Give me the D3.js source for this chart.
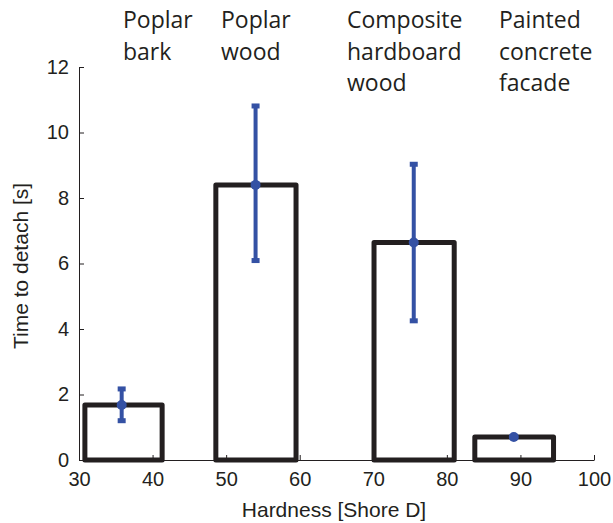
<!DOCTYPE html>
<html><head><meta charset="utf-8">
<script src="https://cdn.jsdelivr.net/npm/d3@7"></script>
<style>body{margin:0;background:#fff}</style>
</head><body>
<svg id="chart" width="613" height="523"></svg>
<script>
const categories = [["Poplar","bark"],["Poplar","wood"],["Composite","hardboard","wood"],["Painted","concrete","facade"]];
const hardnessLow = [30.8, 48.6, 70.1, 83.8];
const hardnessHigh = [41.3, 59.5, 81.0, 94.5];
const hardnessMean = [35.8, 54.0, 75.5, 89.1];
const timeMean = [1.68, 8.4, 6.64, 0.7];
const timeLow = [1.2, 6.09, 4.25, 0.7];
const timeHigh = [2.17, 10.81, 9.03, 0.7];
const xTicks = [30,40,50,60,70,80,90,100];
const yTicks = [0,2,4,6,8,10,12];
const labelX = [123, 221, 347, 499];

const svg = d3.select("#chart");
const x = d3.scaleLinear().domain([30,100]).range([79,594]);
const y = d3.scaleLinear().domain([0,12]).range([460,67]);
const axisCol = "#231f20";
const tickFont = "Liberation Sans, Arial, sans-serif";

// axes
const xAxis = svg.append("g").attr("transform","translate(0,460)")
  .call(d3.axisBottom(x).tickValues(xTicks).tickSizeInner(-5).tickSizeOuter(0).tickPadding(12));
const yAxis = svg.append("g").attr("transform","translate(79,0)")
  .call(d3.axisLeft(y).tickValues(yTicks).tickSizeInner(-5).tickSizeOuter(0).tickPadding(10));
[xAxis,yAxis].forEach(a=>{
  a.attr("font-size",20).attr("font-family",tickFont);
  a.select(".domain").attr("stroke",axisCol).attr("stroke-width",1);
  a.selectAll(".tick line").attr("stroke",axisCol);
  a.selectAll("text").attr("font-family",tickFont).attr("font-size",20).attr("fill","#231f20");
});

// bars
svg.append("g").selectAll("rect").data(timeMean).join("rect")
  .attr("x",(d,i)=>x(hardnessLow[i]))
  .attr("width",(d,i)=>x(hardnessHigh[i])-x(hardnessLow[i]))
  .attr("y",d=>y(d))
  .attr("height",d=>y(0)-y(d))
  .attr("fill","none").attr("stroke","#231f20").attr("stroke-width",5)
  .attr("stroke-linejoin","round");

// error bars
const blue = "#3451a4";
const eg = svg.append("g");
timeMean.forEach((d,i)=>{
  const cx = x(hardnessMean[i]);
  eg.append("line").attr("x1",cx).attr("x2",cx).attr("y1",y(timeLow[i])).attr("y2",y(timeHigh[i]))
    .attr("stroke",blue).attr("stroke-width",4);
  [timeLow[i],timeHigh[i]].forEach(v=>{
    eg.append("rect").attr("x",cx-4).attr("width",8).attr("y",y(v)-2.5).attr("height",5).attr("fill",blue);
  });
  eg.append("circle").attr("cx",cx).attr("cy",y(d)).attr("r",5).attr("fill",blue);
});

// category labels
const lg = svg.append("g").attr("font-family","Open Sans, Noto Sans, sans-serif").attr("font-size",23).attr("fill","#231f20");
categories.forEach((lines,i)=>{
  lines.forEach((t,j)=>{
    lg.append("text").attr("x",labelX[i]).attr("y",28+j*31.5).text(t);
  });
});

// axis titles
svg.append("text").attr("x",334).attr("y",517).attr("text-anchor","middle")
  .attr("font-family",tickFont).attr("font-size",21).attr("fill","#231f20").text("Hardness [Shore D]");
svg.append("text").attr("transform","translate(28,266) rotate(-90)").attr("text-anchor","middle")
  .attr("font-family",tickFont).attr("font-size",21).attr("fill","#231f20").text("Time to detach [s]");
</script>
</body></html>
